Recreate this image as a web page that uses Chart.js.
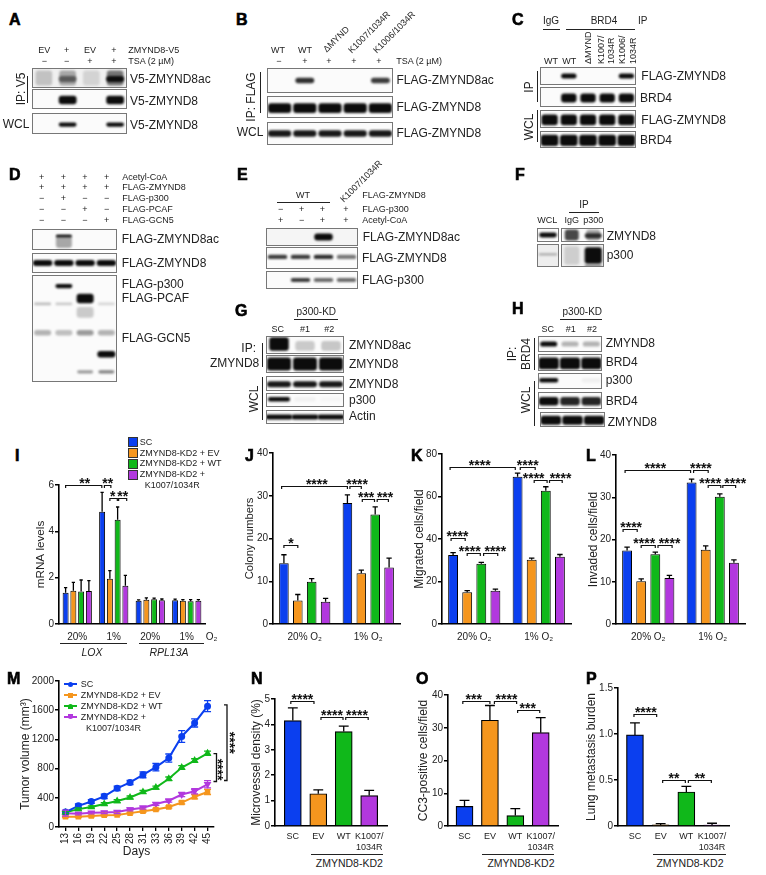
<!DOCTYPE html>
<html>
<head>
<meta charset="utf-8">
<title>ZMYND8 figure</title>
<script src="https://cdn.jsdelivr.net/npm/chart.js@4"></script>
<style>
html, body { margin: 0; padding: 0; background: #fff; }
#fig { position: relative; width: 766px; height: 875px; overflow: hidden; font-family: "Liberation Sans", Arial, sans-serif; color: #222; }
#fig canvas { position: absolute; display: block; }
.t { position: absolute; white-space: nowrap; line-height: 1; }
.l { position: absolute; background: #222; }
</style>
</head>
<body>
<div id="fig"></div>
<script>
const BLUE = '#0b3fef', ORANGE = '#f5961e', GREEN = '#10b81a', PURPLE = '#b238de';
const seriesNames = ['SC', 'ZMYND8-KD2 + EV', 'ZMYND8-KD2 + WT', 'ZMYND8-KD2 + K1007/1034R'];

// panel I
const iCats = ['20%', '1%', '20%', '1%'];
const iSC = [1.35, 4.85, 1.0, 1.03], iSCe = [.22, .83, .04, .04];
const iEV = [1.43, 1.95, 1.05, 1.0], iEVe = [.37, .35, .08, .05];
const iWT = [1.4, 4.5, 1.07, .98], iWTe = [.5, .55, .05, .07];
const iMut = [1.42, 1.65, 1.02, 1.0], iMute = [.45, .45, .06, .05];
// panel J
const o2Cats = ['20% O₂', '1% O₂'];
const jSC = [14.2, 28.3], jSCe = [2, 1.9];
const jEV = [5.5, 11.9], jEVe = [1.4, .7];
const jWT = [9.9, 25.6], jWTe = [.7, 1.8];
const jMut = [5.2, 13.2], jMute = [.8, 2.2];
// panel K
const kSC = [32.5, 69.3], kSCe = [1.1, 1.7];
const kEV = [15, 30.2], kEVe = [.7, .8];
const kWT = [28.3, 62.7], kWTe = [.7, 1.9];
const kMut = [15.7, 31.7], kMute = [.7, 1];
// panel L
const lSC = [17.4, 33.5], lSCe = [.8, .8];
const lEV = [10.1, 17.6], lEVe = [.6, .9];
const lWT = [16.5, 30.1], lWTe = [.5, .7];
const lMut = [10.9, 14.5], lMute = [.6, .7];
// panel M
const days = ['13', '16', '19', '22', '25', '28', '31', '33', '36', '39', '42', '45'];
const mSC = [205, 290, 350, 420, 530, 610, 715, 820, 945, 1240, 1425, 1655];
const mSCe = [20, 25, 25, 30, 30, 30, 40, 50, 55, 80, 55, 75];
const mEV = [140, 140, 150, 160, 165, 190, 215, 240, 275, 335, 415, 480];
const mEVe = [10, 10, 10, 10, 10, 10, 15, 15, 15, 20, 30, 35];
const mWT = [200, 245, 275, 315, 355, 405, 480, 540, 660, 815, 910, 1010];
const mWTe = [15, 15, 15, 20, 20, 20, 20, 20, 25, 25, 25, 30];
const mMut = [190, 180, 195, 200, 205, 240, 265, 315, 360, 445, 490, 585];
const mMute = [40, 15, 15, 15, 20, 20, 20, 20, 20, 30, 35, 50];
// panels N, O, P
const kdCats = ['SC', 'EV', 'WT', ['K1007/', '1034R']];
const nVals = [4.15, 1.27, 3.72, 1.2], nErrs = [.5, .15, .21, .2];
const oVals = [6, 32.3, 3.2, 28.5], oErrs = [1.8, 4.5, 2.1, 4.6];
const pVals = [.99, .012, .37, .01], pErrs = [.13, .013, .06, .02];

// significance brackets: group, bar, group, bar, value, stars, end shifts, label shift
const iSig = [[0,0,1,0,6,'**',0,-.3,1], [1,0,1,1,6,'**',2.3,1,0], [1,1,1,2,5.42,'*',0,-.3,-1], [1,2,1,3,5.42,'**',1,1.3,0]];
const jSig = [[0,0,1,0,32.3,'****',-2.3,0,2.3], [1,0,1,1,32.3,'****',2.5,0,1.5], [1,1,1,2,29.2,'***',1,-.7,-2.3], [1,2,1,3,29.2,'***',2,-.7,2.3], [0,0,0,1,18.5,'*',0,0,0]];
const kSig = [[0,0,1,0,73.7,'****',-3,-2.3,-3], [1,0,1,1,73.7,'****',2.7,3.5,0], [1,1,1,2,67.9,'****',2.5,1.3,-7], [1,2,1,3,67.9,'****',3.7,2.3,4.7], [0,0,0,1,40.4,'****',-2,-2,-.7], [0,1,0,2,33.6,'****',0,-1,-4], [0,2,0,3,33.6,'****',2.3,2.3,4.7]];
const lSig = [[0,0,1,0,36.5,'****',-2,-1,-2.5], [1,0,1,1,36.5,'****',2,2.5,0], [1,1,1,2,33,'****',2.5,1,-4.3], [1,2,1,3,33,'****',3,1.7,6], [0,0,0,1,22.4,'****',-4,-4,1], [0,1,0,2,18.7,'****',0,0,-4], [0,2,0,3,18.7,'****',2.7,2.7,4.5]];
const nSig = [[0,0,1,0,4.93,'****',-2,-4.3,0], [1,0,2,0,4.3,'****',2.7,-.7,0], [2,0,3,0,4.3,'****',2,-1,0]];
const oSig = [[0,0,1,0,38.3,'***',-1.7,0,-2.7], [1,0,2,0,38.3,'****',4.5,1.3,1], [2,0,3,0,35.4,'***',2.3,-1,-1]];
const pSig = [[0,0,1,0,1.216,'****',-1,-4,.5], [1,0,2,0,.5,'**',2,-1,0], [2,0,3,0,.5,'**',2,-.7,0]];

// blot band levels, one value per lane
const aAcSmear = [.2, .32, .12, .55], aAcBand = [0, .5, 0, 1], aIp = [0, 1, 0, 1], aWcl = [0, 1, 0, 1];
const bAc = [0, .85, 0, 0, .8], bIp = [1, 1, 1, 1, 1], bWcl = [.95, .95, .95, .95, .95];
const cIpFlag = [0, 1, 0, 0, 1], cIpBrd = [0, 1, 1, 1, 1], cWclFlag = [1, 1, 1, 1, 1], cWclBrd = [1, 1, 1, 1, 1];
const dAcBand = [0, 1, 0, 0], dAcSmear = [0, .35, 0, 0], dFlag = [1, 1, 1, 1];
const dP300 = [0, 1, 0, 0], dPcaf = [0, 0, 1, 0], dNs1 = [.25, .2, 0, .15], dSmear = [0, 0, .2, 0], dNs2 = [.3, .25, .4, .3], dGcn5 = [0, 0, 0, 1], dNs3 = [0, 0, .4, .5];
const eAc = [0, 0, 1, 0], eFlag = [.8, .8, .85, .55], eP300 = [0, .8, .6, .6];
const fWcl1 = [1], fWcl2 = [.3], fIp1a = [.75, .35], fIp1b = [0, .8], fIp2a = [0, 1], fIp2b = [.15, 0], fIp2c = [0, .5];
const gAc1 = [1, 0, 0], gAc2 = [0, .2, .22], gIp = [1, 1, 1], gWcl = [.95, .95, .95], gP300 = [1, .04, .02], gActin = [1, 1, 1];
const hIp1 = [1, .3, .3], hIp2 = [1, 1, 1], hP300 = [1, 0, .05], hBrd = [1, .9, .9], hZ = [1, 1, 1];

Chart.defaults.font.family = '"Liberation Sans", Arial, sans-serif';
Chart.defaults.color = '#222';
Chart.defaults.animation = false;

const fig = document.getElementById('fig');

function makeCanvas(left, top, w, h) {
    const c = document.createElement('canvas');
    c.width = w; c.height = h;
    c.style.left = left + 'px'; c.style.top = top + 'px';
    c.style.width = w + 'px'; c.style.height = h + 'px';
    fig.appendChild(c);
    return c;
}

function txt(s, x, y, size = 9, align = 'l', extra = '') {
    const d = document.createElement('div');
    d.className = 't';
    d.textContent = s;
    const tx = align === 'c' ? '-50%' : align === 'r' ? '-100%' : '0';
    d.style.cssText = `left:${x}px;top:${y}px;font-size:${size}px;transform:translate(${tx},-50%);${extra}`;
    fig.appendChild(d);
}
// centred text turned to read upwards
function vert(s, x, y, size = 12) {
    const d = document.createElement('div');
    d.className = 't';
    d.textContent = s;
    d.style.cssText = `left:${x}px;top:${y}px;font-size:${size}px;transform:translate(-50%,-50%) rotate(-90deg);`;
    fig.appendChild(d);
}
// text that starts at x,y and runs up at an angle
function slant(s, x, y, deg, size = 9) {
    const d = document.createElement('div');
    d.className = 't';
    d.textContent = s;
    d.style.cssText = `left:${x}px;top:${y}px;font-size:${size}px;transform-origin:0 50%;transform:translateY(-50%) rotate(${deg}deg);`;
    fig.appendChild(d);
}
function hline(x1, x2, y) {
    const d = document.createElement('div');
    d.className = 'l';
    d.style.cssText = `left:${x1}px;top:${y}px;width:${x2 - x1}px;height:1px;`;
    fig.appendChild(d);
}
function vline(x, y1, y2) {
    const d = document.createElement('div');
    d.className = 'l';
    d.style.cssText = `left:${x}px;top:${y1}px;width:1px;height:${y2 - y1}px;`;
    fig.appendChild(d);
}
function letter(s, x, y) {
    txt(s, x, y, 16, 'l', 'font-weight:bold;color:#000;-webkit-text-stroke:.6px #000;');
}

const blurBands = {
    id: 'blurBands',
    beforeDatasetsDraw(c) { c.ctx.filter = 'blur(1.2px)'; },
    afterDatasetsDraw(c) { c.ctx.filter = 'none'; }
};

// one blot strip: lanes on x, position in the strip on y
function band(c, t, w, levels) { return { c, t, w, levels }; }
function blot(x, y, w, h, bands, bg = '#fbfbfb') {
    const canvas = makeCanvas(x, y, w, h);
    canvas.style.background = bg;
    canvas.style.outline = '1px solid #777';
    canvas.style.outlineOffset = '-1px';
    const lanes = bands[0].levels.map((_, i) => 'lane ' + (i + 1));
    new Chart(canvas, {
        type: 'bar',
        data: {
            labels: lanes,
            datasets: bands.map(b => ({
                data: b.levels.map(v => v > 0 ? [b.c - b.t / 2, b.c + b.t / 2] : null),
                backgroundColor: b.levels.map(v => `rgba(12,12,12,${v})`),
                categoryPercentage: 1,
                barPercentage: b.w,
                grouped: false,
                borderWidth: 0,
                borderSkipped: false,
                borderRadius: 3
            }))
        },
        options: {
            responsive: false,
            layout: { padding: 0 },
            plugins: { legend: { display: false }, tooltip: { enabled: false } },
            scales: {
                x: { display: false },
                y: { display: false, reverse: true, min: 0, max: 1 }
            }
        },
        plugins: [blurBands]
    });
}

function errorBars(capFrac) {
    return {
        id: 'errorBars',
        afterDatasetsDraw(chart) {
            const { ctx } = chart;
            const yS = chart.scales.y;
            ctx.save();
            ctx.strokeStyle = '#000';
            ctx.lineWidth = 1.3;
            chart.data.datasets.forEach((ds, i) => {
                const meta = chart.getDatasetMeta(i);
                meta.data.forEach((el, j) => {
                    const v = typeof ds.data[j] === 'object' ? ds.data[j].y : ds.data[j];
                    const top = yS.getPixelForValue(v + ds.err[j]);
                    const mid = yS.getPixelForValue(v);
                    const cap = capFrac ? el.width * capFrac / 2 : 3.5;
                    ctx.strokeStyle = ds.errColor || '#000';
                    ctx.beginPath();
                    ctx.moveTo(el.x, mid); ctx.lineTo(el.x, top);
                    ctx.moveTo(el.x - cap, top); ctx.lineTo(el.x + cap, top);
                    if (!capFrac) {
                        const low = yS.getPixelForValue(v - ds.err[j]);
                        ctx.moveTo(el.x, mid); ctx.lineTo(el.x, low);
                        ctx.moveTo(el.x - cap, low); ctx.lineTo(el.x + cap, low);
                    }
                    ctx.stroke();
                });
            });
            ctx.restore();
        }
    };
}

function sigBrackets(list) {
    return {
        id: 'sigBrackets',
        afterDraw(chart) {
            const { ctx } = chart;
            const yS = chart.scales.y;
            ctx.save();
            ctx.strokeStyle = '#111';
            ctx.fillStyle = '#111';
            ctx.lineWidth = 1.2;
            ctx.font = 'bold 14px "Liberation Sans"';
            ctx.textAlign = 'center';
            ctx.textBaseline = 'alphabetic';
            list.forEach(([g1, b1, g2, b2, val, stars, d1, d2, dl]) => {
                const x1 = chart.getDatasetMeta(b1).data[g1].x + d1;
                const x2 = chart.getDatasetMeta(b2).data[g2].x + d2;
                const y = Math.round(yS.getPixelForValue(val)) + .5;
                ctx.beginPath();
                ctx.moveTo(x1, y + 2.5); ctx.lineTo(x1, y); ctx.lineTo(x2, y); ctx.lineTo(x2, y + 2.5);
                ctx.stroke();
                ctx.fillText(stars, (x1 + x2) / 2 + dl, y + 2);
            });
            ctx.restore();
        }
    };
}

function yAxis(title, max, step, titleSize, leftW) {
    return {
        min: 0, max,
        title: { display: true, text: title, font: { size: titleSize }, padding: 0, color: '#222' },
        border: { color: '#000', width: 1.6 },
        grid: { drawOnChartArea: false, drawTicks: true, tickLength: 4, color: '#000', lineWidth: 1.5 },
        ticks: { stepSize: step, font: { size: 10 }, padding: 1, color: '#222', format: { useGrouping: false, minimumFractionDigits: step < 1 ? 1 : 0 } },
        afterFit(s) { s.width = leftW; }
    };
}

// grouped bars, chart area given in page pixels
function groupedBars(box, titleX, title, titleSize, max, step, cats, vals, errs, sig, catFrac, barFrac) {
    const [l, t, r, b] = box;
    const left = Math.round(titleX - 7), topPad = 32, rightPad = 12, bottomH = 22;
    const canvas = makeCanvas(left, t - topPad, r - left + rightPad, b - t + topPad + bottomH);
    new Chart(canvas, {
        type: 'bar',
        data: {
            labels: cats,
            datasets: vals.map((v, i) => ({
                label: seriesNames[i],
                data: v,
                err: errs[i],
                backgroundColor: [BLUE, ORANGE, GREEN, PURPLE][i],
                borderColor: '#000',
                borderWidth: 1,
                categoryPercentage: catFrac,
                barPercentage: barFrac
            }))
        },
        options: {
            responsive: false,
            layout: { padding: { top: topPad, right: rightPad } },
            plugins: { legend: { display: false }, tooltip: { enabled: false } },
            scales: {
                x: {
                    border: { color: '#000', width: 1.6 },
                    grid: { drawOnChartArea: false, drawTicks: false },
                    ticks: { font: { size: 10 }, padding: 7, maxRotation: 0, autoRotate: false, color: '#222' },
                    afterFit(s) { s.height = bottomH; }
                },
                y: yAxis(title, max, step, titleSize, l - left)
            }
        },
        plugins: [errorBars(.55), sigBrackets(sig)]
    });
}

// single series with lanes set on a linear x scale so the margins match
function kdBars(box, titleX, title, max, step, xMin, xMax, vals, errs, sig) {
    const [l, t, r, b] = box;
    const left = Math.round(titleX - 7), topPad = 20, rightPad = 12, bottomH = 28;
    const canvas = makeCanvas(left, t - topPad, r - left + rightPad, b - t + topPad + bottomH);
    new Chart(canvas, {
        type: 'bar',
        data: {
            datasets: [{
                data: vals.map((y, x) => ({ x, y })),
                err: errs,
                backgroundColor: [BLUE, ORANGE, GREEN, PURPLE],
                borderColor: '#000',
                borderWidth: 1.2,
                barThickness: 17
            }]
        },
        options: {
            responsive: false,
            layout: { padding: { top: topPad, right: rightPad } },
            plugins: { legend: { display: false }, tooltip: { enabled: false } },
            scales: {
                x: {
                    type: 'linear', min: xMin, max: xMax, offset: false,
                    border: { color: '#000', width: 1.6 },
                    grid: { drawOnChartArea: false, drawTicks: false },
                    afterBuildTicks(s) { s.ticks = kdCats.map((_, v) => ({ value: v })); },
                    ticks: {
                        callback: v => kdCats[v], font: { size: 9 }, padding: 5,
                        maxRotation: 0, autoSkip: false, color: '#222'
                    },
                    afterFit(s) { s.height = bottomH; }
                },
                y: yAxis(title, max, step, 12, l - left)
            }
        },
        plugins: [errorBars(.58), sigBrackets(sig)]
    });
}

groupedBars([59, 485, 205, 624], 40.7, 'mRNA levels', 11.7, 6, 2, iCats, [iSC, iEV, iWT, iMut], [iSCe, iEVe, iWTe, iMute], iSig, .85, .77);
groupedBars([273, 453, 400, 624], 250, 'Colony numbers', 11.2, 40, 10, o2Cats, [jSC, jEV, jWT, jMut], [jSCe, jEVe, jWTe, jMute], jSig, .875, .69);
groupedBars([442, 454, 571, 624], 419, 'Migrated cells/field', 12, 80, 20, o2Cats, [kSC, kEV, kWT, kMut], [kSCe, kEVe, kWTe, kMute], kSig, .875, .7);
groupedBars([616, 455, 745, 624], 592.7, 'Invaded cells/field', 12, 40, 10, o2Cats, [lSC, lEV, lWT, lMut], [lSCe, lEVe, lWTe, lMute], lSig, .875, .7);

kdBars([275, 699, 387, 826], 256, 'Microvessel density (%)', 5, 1, -.7, 3.7, nVals, nErrs, nSig);
kdBars([448, 695, 558, 826], 422.7, 'CC3-positive cells/field', 40, 10, -.65, 3.68, oVals, oErrs, oSig);
kdBars([618, 688, 729, 826], 591, 'Lung metastasis burden', 1.5, .5, -.66, 3.66, pVals, pErrs, pSig);

// panel M
(function () {
    const l = 59, t = 681, r = 214, b = 827;
    const left = 18, topPad = 8, rightPad = 30, bottomH = 32;
    const canvas = makeCanvas(left, t - topPad, r - left + rightPad, b - t + topPad + bottomH);
    const mk = (i, data, err, color, style, rot) => ({
        label: seriesNames[i], data, err, errColor: color,
        borderColor: color, backgroundColor: color, borderWidth: 2,
        pointStyle: style, pointRotation: rot, pointRadius: 2.5, tension: 0
    });
    new Chart(canvas, {
        type: 'line',
        data: {
            labels: days,
            datasets: [
                mk(0, mSC, mSCe, BLUE, 'circle', 0),
                mk(1, mEV, mEVe, ORANGE, 'rect', 0),
                mk(2, mWT, mWTe, GREEN, 'triangle', 0),
                mk(3, mMut, mMute, PURPLE, 'triangle', 180)
            ]
        },
        options: {
            responsive: false,
            layout: { padding: { top: topPad, right: rightPad } },
            plugins: { legend: { display: false }, tooltip: { enabled: false } },
            scales: {
                x: {
                    offset: true,
                    border: { color: '#000', width: 1.6 },
                    grid: { drawOnChartArea: false, drawTicks: true, tickLength: 4, color: '#000', lineWidth: 1.3 },
                    ticks: { font: { size: 10 }, padding: 2, minRotation: 90, maxRotation: 90, autoSkip: false, color: '#222' },
                    title: { display: true, text: 'Days', font: { size: 12 }, padding: 0, color: '#222' },
                    afterFit(s) { s.height = bottomH; }
                },
                y: yAxis('Tumor volume (mm³)', 2000, 400, 12, l - left)
            }
        },
        plugins: [errorBars(0), {
            id: 'sideBrackets',
            afterDraw(chart) {
                const { ctx, chartArea } = chart;
                const yS = chart.scales.y;
                ctx.save();
                ctx.strokeStyle = '#111';
                ctx.fillStyle = '#111';
                ctx.lineWidth = 1.3;
                [[13, 1672, 637, 12.5], [2.5, 1006, 623, 1]].forEach(([dx, hi, lo, lx]) => {
                    const x = chartArea.right + dx;
                    const y1 = yS.getPixelForValue(hi), y2 = yS.getPixelForValue(lo);
                    ctx.beginPath();
                    ctx.moveTo(x - 3, y1); ctx.lineTo(x, y1); ctx.lineTo(x, y2); ctx.lineTo(x - 3, y2);
                    ctx.stroke();
                    ctx.save();
                    ctx.translate(chartArea.right + lx, (y1 + y2) / 2 + (dx < 5 ? 2 : 0));
                    ctx.rotate(Math.PI / 2);
                    ctx.font = 'bold 14px "Liberation Sans"';
                    ctx.textAlign = 'center';
                    ctx.fillText('****', 0, 2);
                    ctx.restore();
                });
                ctx.restore();
            }
        }]
    });
})();

// blots
blot(32, 68, 95, 20, [band(.5, .75, .7, aAcSmear), band(.55, .3, .75, aAcBand)], '#f0f0f0');
blot(32, 89, 95, 20, [band(.55, .42, .75, aIp)]);
blot(32, 113, 95, 21, [band(.55, .2, .75, aWcl)]);
blot(267, 68, 126, 25, [band(.5, .22, .75, bAc)]);
blot(267, 96, 126, 22, [band(.55, .45, .92, bIp)]);
blot(267, 122, 126, 23, [band(.5, .28, .92, bWcl)]);
blot(540, 67, 96, 18, [band(.5, .28, .8, cIpFlag)]);
blot(540, 87, 96, 20, [band(.55, .45, .8, cIpBrd)]);
blot(540, 110, 96, 18, [band(.55, .6, .85, cWclFlag)]);
blot(540, 131, 96, 17, [band(.55, .65, .92, cWclBrd)]);
blot(32, 229, 85, 21, [band(.6, .6, .75, dAcSmear), band(.33, .12, .75, dAcBand)]);
blot(32, 253, 85, 20, [band(.5, .3, .92, dFlag)]);
blot(32, 275, 85, 107, [band(.103, .04, .8, dP300), band(.22, .09, .8, dPcaf), band(.27, .025, .8, dNs1), band(.35, .1, .8, dSmear), band(.54, .05, .8, dNs2), band(.74, .06, .85, dGcn5), band(.905, .03, .75, dNs3)]);
blot(266, 228, 92, 18, [band(.5, .38, .8, eAc)], '#f5f5f5');
blot(266, 247, 92, 22, [band(.45, .2, .85, eFlag)]);
blot(266, 271, 92, 18, [band(.5, .22, .85, eP300)]);
blot(537, 228, 22, 14, [band(.5, .35, .8, fWcl1)]);
blot(537, 244, 22, 23, [band(.45, .1, .85, fWcl2)], '#eeeeee');
blot(561, 228, 43, 14, [band(.5, .8, .65, fIp1a), band(.55, .35, .8, fIp1b)]);
blot(561, 244, 43, 23, [band(.5, .8, .7, fIp2b), band(.5, .72, .8, fIp2a), band(.95, .1, .8, fIp2c)], '#f0f0f0');
blot(266, 336, 78, 18, [band(.45, .75, .75, gAc1), band(.55, .55, .75, gAc2)]);
blot(266, 355, 78, 18, [band(.5, .72, .92, gIp)]);
blot(266, 376, 78, 15, [band(.55, .4, .92, gWcl)]);
blot(266, 393, 78, 14, [band(.45, .32, .85, gP300)]);
blot(266, 410, 78, 14, [band(.5, .32, 1, gActin)]);
blot(538, 336, 64, 16, [band(.5, .32, .8, hIp1)]);
blot(538, 354, 64, 17, [band(.55, .7, .95, hIp2)]);
blot(538, 373, 64, 16, [band(.45, .28, .9, hP300)]);
blot(538, 392, 64, 17, [band(.55, .5, .92, hBrd)]);
blot(540, 412, 65, 15, [band(.55, .6, .95, hZ)]);

// panel letters
letter('A', 9, 20); letter('B', 236, 20); letter('C', 512, 20);
letter('D', 9, 175); letter('E', 237, 175); letter('F', 515, 175);
letter('G', 235, 311); letter('H', 512, 309);
letter('I', 15, 456); letter('J', 245, 456); letter('K', 411, 456); letter('L', 586, 456);
letter('M', 7, 679); letter('N', 251, 679); letter('O', 416, 679); letter('P', 586, 679);

// A
['EV', '+', 'EV', '+'].forEach((s, i) => txt(s, [44.3, 66.7, 90, 114][i], 50, 9, 'c'));
['−', '−', '+', '+'].forEach((s, i) => txt(s, [44.3, 66.7, 90, 114][i], 61, 9, 'c'));
txt('ZMYND8-V5', 128.3, 50); txt('TSA (2 µM)', 128.3, 61);
txt('V5-ZMYND8ac', 130, 79, 12); txt('V5-ZMYND8', 130, 101, 12); txt('V5-ZMYND8', 130, 125, 12);
vert('IP: V5', 21, 89); vline(27, 76, 103); txt('WCL', 2.7, 124, 12);
// B
txt('WT', 278, 50, 9, 'c'); txt('WT', 305, 50, 9, 'c');
['−', '+', '+', '+', '+'].forEach((s, i) => txt(s, [279, 305, 329, 354, 379][i], 61, 9, 'c'));
slant('ΔMYND', 325, 51, -45); slant('K1007/1034R', 350, 52, -45); slant('K1006/1034R', 375, 52, -45);
txt('TSA (2 µM)', 396.3, 61);
txt('FLAG-ZMYND8ac', 396.5, 80, 12); txt('FLAG-ZMYND8', 396.5, 107, 12); txt('FLAG-ZMYND8', 396.5, 133, 12);
vert('IP: FLAG', 251, 97); vline(260, 72, 113); txt('WCL', 236.7, 132.3, 12);
// C
txt('IgG', 551, 21, 10, 'c'); hline(543, 560, 29); txt('BRD4', 604, 21, 10, 'c'); hline(566, 635, 29); txt('IP', 638, 21, 10);
txt('WT', 544, 61.3, 9); txt('WT', 562.3, 61.3, 9);
slant('ΔMYND', 588, 64, -90); slant('K1007/', 601.3, 64, -90); slant('1034R', 611.3, 64, -90); slant('K1006/', 622.3, 64, -90); slant('1034R', 633, 64, -90);
txt('FLAG-ZMYND8', 641.3, 76, 12); txt('BRD4', 640, 97.7, 12); txt('FLAG-ZMYND8', 641.3, 120, 12); txt('BRD4', 640, 140, 12);
vert('IP', 528.7, 87); vline(537, 71, 102); vert('WCL', 528.7, 126.7); vline(537, 110, 142);
// D
const dRows = [['Acetyl-CoA', '++++'], ['FLAG-ZMYND8', '++++'], ['FLAG-p300', '−+−−'], ['FLAG-PCAF', '−−+−'], ['FLAG-GCN5', '−−−+']];
dRows.forEach(([name, marks], r) => {
    const y = [176.7, 187.3, 198.3, 209, 220][r];
    [...marks].forEach((s, i) => txt(s, [41.7, 63.3, 85, 106.7][i], y, 9, 'c'));
    txt(name, 122.3, y);
});
txt('FLAG-ZMYND8ac', 121.7, 239, 12); txt('FLAG-ZMYND8', 121.7, 263.3, 12); txt('FLAG-p300', 121.7, 284, 12); txt('FLAG-PCAF', 121.7, 297.7, 12); txt('FLAG-GCN5', 121.7, 338.3, 12);
// E
txt('WT', 303, 195, 9, 'c'); hline(277, 330, 202); slant('K1007/1034R', 341.7, 200.7, -45);
txt('FLAG-ZMYND8', 362.3, 195); txt('FLAG-p300', 362.3, 209); txt('Acetyl-CoA', 362.3, 220);
['−', '+', '+', '+'].forEach((s, i) => txt(s, [280.7, 301.7, 322.3, 346][i], 209, 9, 'c'));
['+', '−', '+', '+'].forEach((s, i) => txt(s, [280.7, 301.7, 322.3, 346][i], 220, 9, 'c'));
txt('FLAG-ZMYND8ac', 362.7, 236.7, 12); txt('FLAG-ZMYND8', 362, 257.7, 12); txt('FLAG-p300', 362, 280.3, 12);
// F
txt('WCL', 547.3, 220, 9, 'c'); txt('IgG', 571.7, 220, 9, 'c'); txt('p300', 593.3, 220, 9, 'c');
txt('IP', 584, 205, 10, 'c'); hline(569, 599, 212); txt('ZMYND8', 606.7, 235.7, 12); txt('p300', 606.7, 255, 12);
// G
['SC', '#1', '#2'].forEach((s, i) => txt(s, [277.7, 305, 329.3][i], 329, 9, 'c'));
txt('p300-KD', 316.3, 312.3, 10, 'c'); hline(294, 338, 319);
txt('ZMYND8ac', 349, 345, 12); txt('ZMYND8', 349, 364, 12); txt('ZMYND8', 349, 384, 12); txt('p300', 349, 400, 12); txt('Actin', 349, 416, 12);
txt('IP:', 256, 348, 12, 'r'); txt('ZMYND8', 259.3, 362.7, 12, 'r'); vline(262, 343, 367); vert('WCL', 254, 399.3); vline(262, 377, 420);
// H
['SC', '#1', '#2'].forEach((s, i) => txt(s, [547.7, 570.7, 592][i], 329, 9, 'c'));
txt('p300-KD', 582.3, 311.7, 10, 'c'); hline(560, 602, 319);
txt('ZMYND8', 605.7, 343, 12); txt('BRD4', 605.7, 362.3, 12); txt('p300', 605.7, 380, 12); txt('BRD4', 605.7, 401, 12); txt('ZMYND8', 607.7, 421.7, 12);
vert('IP:', 511.7, 354.3); vert('BRD4', 526, 354); vline(534, 338, 370); vert('WCL', 526, 400); vline(534, 381, 426);

// legend of panel I
[[BLUE, 441.7], [ORANGE, 452.7], [GREEN, 463.3], [PURPLE, 474.3]].forEach(([color, y], i) => {
    const d = document.createElement('div');
    d.style.cssText = `position:absolute;left:127.5px;top:${y - 4.5}px;width:8px;height:8px;background:${color};border:.8px solid #333;`;
    fig.appendChild(d);
    txt(i === 3 ? 'ZMYND8-KD2 +' : seriesNames[i], 139.7, y);
});
txt('K1007/1034R', 144.7, 485);
// group labels under panel I
txt('O₂', 205.7, 637, 10);
hline(60, 127, 643); hline(139, 204, 643);
txt('LOX', 92, 652, 10.5, 'c', 'font-style:italic;'); txt('RPL13A', 169, 652, 10.5, 'c', 'font-style:italic;');

// legend of panel M
[[BLUE, 684.3, '50%'], [ORANGE, 695, '0'], [GREEN, 706, '50% 50% 0 0'], [PURPLE, 716.7, '0 0 50% 50%']].forEach(([color, y, rad], i) => {
    const d = document.createElement('div');
    d.style.cssText = `position:absolute;left:64px;top:${y - 1}px;width:13px;height:2px;background:${color};`;
    fig.appendChild(d);
    const m = document.createElement('div');
    m.style.cssText = `position:absolute;left:68px;top:${y - 2.5}px;width:5px;height:5px;background:${color};border-radius:${rad};`;
    fig.appendChild(m);
    txt(i === 3 ? 'ZMYND8-KD2 +' : seriesNames[i], 80.7, y);
});
txt('K1007/1034R', 86, 727.7);

// ZMYND8-KD2 group lines
hline(311, 383, 854); txt('ZMYND8-KD2', 349.3, 863, 10.5, 'c');
hline(482, 554, 854); txt('ZMYND8-KD2', 521, 863, 10.5, 'c');
hline(653, 726, 854); txt('ZMYND8-KD2', 690, 863, 10.5, 'c');
</script>
</body>
</html>
